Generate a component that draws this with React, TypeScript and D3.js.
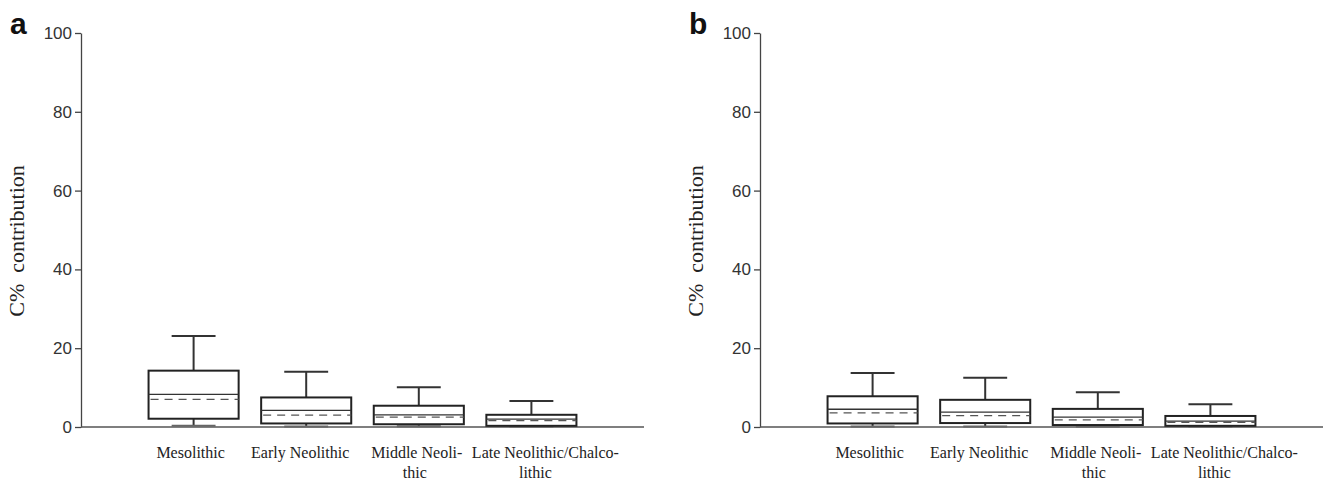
import React, { useRef, useEffect } from 'react';
import * as d3 from 'd3';

// category labels, already split the way the figure hyphenates them
const categoryLines = [
  ['Mesolithic'],
  ['Early Neolithic'],
  ['Middle Neoli-', 'thic'],
  ['Late Neolithic/Chalco-', 'lithic'],
];

const yTicks = [0, 20, 40, 60, 80, 100];

// panel a
const aLow = [0.3, 0.1, 0.2, 0.1];
const aQ1 = [2.1, 0.9, 0.7, 0.3];
const aMedian = [8.3, 4.2, 3.1, 2.0];
const aMean = [7.0, 3.0, 2.5, 1.6];
const aQ3 = [14.3, 7.5, 5.4, 3.1];
const aHigh = [23.1, 14.0, 10.1, 6.6];

// panel b
const bLow = [0.1, 0.1, 0.1, 0.1];
const bQ1 = [0.9, 1.0, 0.5, 0.3];
const bMedian = [4.5, 3.8, 2.5, 1.5];
const bMean = [3.6, 2.9, 1.8, 1.2];
const bQ3 = [7.8, 6.9, 4.6, 2.8];
const bHigh = [13.7, 12.5, 8.8, 5.8];

type Stats = { low: number[]; q1: number[]; median: number[]; mean: number[]; q3: number[]; high: number[] };

const panels: { letter: string; x0: number; stats: Stats }[] = [
  { letter: 'a', x0: 81, stats: { low: aLow, q1: aQ1, median: aMedian, mean: aMean, q3: aQ3, high: aHigh } },
  { letter: 'b', x0: 760, stats: { low: bLow, q1: bQ1, median: bMedian, mean: bMean, q3: bQ3, high: bHigh } },
];

// labels in the original are not quite centred under the boxes
const labelNudge = [
  [-3, 0],
  [-6, 0],
  [-2, -4],
  [14, 4],
];

const App = () => {
  const svgRef = useRef<SVGSVGElement>(null);

  useEffect(() => {
    const svg = d3.select(svgRef.current);
    svg.selectAll('*').remove();

    const y = d3.scaleLinear().domain([0, 100]).range([427, 33]);

    panels.forEach(({ letter, x0, stats }) => {
      // categories sit at 1..4, the axis runs to 5
      const x = d3.scaleLinear().domain([0, 5]).range([x0, x0 + 563]);
      const g = svg.append('g');
      const boxW = x(0.8) - x(0);
      const capW = x(0.39) - x(0);

      // panel letter
      g.append('text')
        .attr('x', x0 - 71)
        .attr('y', 34)
        .attr('font-family', 'Liberation Sans, Arial, sans-serif')
        .attr('font-weight', 'bold')
        .attr('font-size', 30)
        .attr('fill', '#111')
        .text(letter);

      // y axis
      g.append('g')
        .attr('transform', `translate(${x0},0)`)
        .call(d3.axisLeft(y).tickValues(yTicks).tickSize(6).tickPadding(3).tickSizeOuter(0))
        .call(a => a.select('.domain').attr('stroke', '#444').attr('stroke-width', 1.3))
        .call(a => a.selectAll('.tick line').attr('stroke', '#444').attr('stroke-width', 1.3))
        .call(a => a.selectAll('.tick text')
          .attr('font-family', 'Liberation Sans, Arial, sans-serif')
          .attr('font-size', 17)
          .attr('fill', '#333'));

      // y label
      g.append('text')
        .attr('transform', `translate(${x0 - 57},241) rotate(-90)`)
        .attr('text-anchor', 'middle')
        .attr('font-family', 'Liberation Serif, Times New Roman, serif')
        .attr('font-size', 22)
        .attr('fill', '#222')
        .style('white-space', 'pre')
        .text('C%  contribution');

      // x axis line
      g.append('line')
        .attr('x1', x(0)).attr('x2', x(5))
        .attr('y1', y(0)).attr('y2', y(0))
        .attr('stroke', '#555')
        .attr('stroke-width', 1.3);

      categoryLines.forEach((lines, i) => {
        const cx = x(i + 1);
        const b = g.append('g');

        // whiskers
        b.append('line')
          .attr('x1', cx).attr('x2', cx)
          .attr('y1', y(stats.q3[i])).attr('y2', y(stats.high[i]))
          .attr('stroke', '#333').attr('stroke-width', 2);
        b.append('line')
          .attr('x1', cx).attr('x2', cx)
          .attr('y1', y(stats.q1[i])).attr('y2', y(stats.low[i]))
          .attr('stroke', '#333').attr('stroke-width', 2);
        b.append('line')
          .attr('x1', cx - capW / 2).attr('x2', cx + capW / 2)
          .attr('y1', y(stats.high[i])).attr('y2', y(stats.high[i]))
          .attr('stroke', '#333').attr('stroke-width', 2);
        b.append('line')
          .attr('x1', cx - capW / 2).attr('x2', cx + capW / 2)
          .attr('y1', y(stats.low[i])).attr('y2', y(stats.low[i]))
          .attr('stroke', '#666').attr('stroke-width', 2);

        // box
        b.append('rect')
          .attr('x', cx - boxW / 2)
          .attr('y', y(stats.q3[i]))
          .attr('width', boxW)
          .attr('height', y(stats.q1[i]) - y(stats.q3[i]))
          .attr('fill', '#fff')
          .attr('stroke', '#222')
          .attr('stroke-width', 2);

        // median (solid) and mean (dashed)
        b.append('line')
          .attr('x1', cx - boxW / 2).attr('x2', cx + boxW / 2)
          .attr('y1', y(stats.median[i])).attr('y2', y(stats.median[i]))
          .attr('stroke', '#333').attr('stroke-width', 1.3);
        b.append('line')
          .attr('x1', cx - boxW / 2 + 2).attr('x2', cx + boxW / 2)
          .attr('y1', y(stats.mean[i])).attr('y2', y(stats.mean[i]))
          .attr('stroke', '#555').attr('stroke-width', 1.3)
          .attr('stroke-dasharray', '8,6');

        // category label
        const t = g.append('text')
          .attr('text-anchor', 'middle')
          .attr('font-family', 'Liberation Serif, Times New Roman, serif')
          .attr('font-size', 16)
          .attr('fill', '#222');
        lines.forEach((line, j) => {
          t.append('tspan')
            .attr('x', cx + labelNudge[i][j])
            .attr('y', 458 + j * 20)
            .text(line);
        });
      });
    });
  }, []);

  return (
    <svg
      ref={svgRef}
      width={1325}
      height={480}
      style={{ position: 'absolute', left: 0, top: 0, background: '#fff' }}
    />
  );
};

export default App;
